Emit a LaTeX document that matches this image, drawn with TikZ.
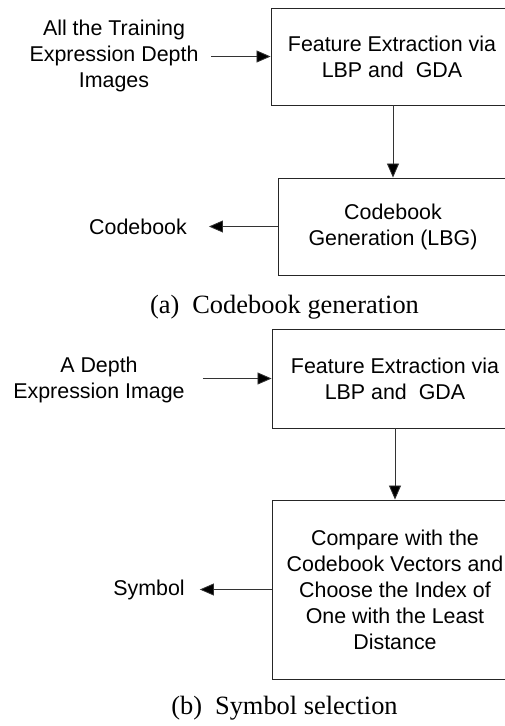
\documentclass[tikz,border=0pt]{standalone}
\usepackage{fontspec}
\setmainfont{Liberation Sans}
\newfontfamily\capfont{Liberation Serif}
\usetikzlibrary{arrows.meta}

\tikzset{
  blockbox/.style={draw=black!85, line width=0.9pt, align=center, inner sep=0pt,
    font=\fontsize{21.4}{26}\selectfont},
  plaintext/.style={align=center, inner sep=0pt,
    font=\fontsize{21.4}{26}\selectfont},
  captext/.style={inner sep=0pt, font=\capfont\fontsize{26.4}{30}\selectfont},
  flow/.style={draw=black!80, line width=0.8pt,
    -{Triangle[length=14pt,width=12pt,fill=black]}},
}

\begin{document}
\begin{tikzpicture}[x=1pt,y=-1pt]
  \useasboundingbox (0,0) rectangle (505,726);
  \clip (0,0) rectangle (505,726);
  \fill[white] (0,0) rectangle (505,726);

  % (a) codebook generation
  \node[plaintext, inner xsep=12.5pt] (in1) at (114,56)
    {All the Training\\Expression Depth\\Images};
  \node[blockbox, minimum width=242pt, minimum height=97pt] (fe1) at (392,56.5)
    {Feature Extraction via\\LBP and\ \ GDA};
  \node[blockbox, minimum width=230pt, minimum height=97pt] (cg) at (393,226.5)
    {Codebook\\Generation (LBG)};
  \node[plaintext, inner xsep=22pt] (cb) at (138,227) {Codebook};
  \node[captext] (capa) at (284.5,307) {(a)\hspace{13pt}Codebook generation};

  \draw[flow] (in1.east |- fe1.west) -- (fe1.west);
  \draw[flow] (fe1.south -| cg.north) -- (cg.north);
  \draw[flow] (cg.west) -- (cb.east |- cg.west);

  % (b) symbol selection
  \node[plaintext, inner xsep=18pt] (in2) at (99,379.5)
    {A Depth\\Expression Image};
  \node[blockbox, minimum width=246pt, minimum height=99pt] (fe2) at (395,378.5)
    {Feature Extraction via\\LBP and\ \ GDA};
  \node[blockbox, minimum width=246pt, minimum height=179pt] (cmp) at (395,589.5)
    {Compare with the\\Codebook Vectors and\\Choose the Index of\\One with the Least\\Distance};
  \node[plaintext, inner xsep=15pt] (sym) at (149,590) {Symbol};
  \node[captext] (capb) at (284.5,708) {(b)\hspace{13pt}Symbol selection};

  \draw[flow] (in2.east |- fe2.west) -- (fe2.west);
  \draw[flow] (fe2.south) -- (cmp.north);
  \draw[flow] (cmp.west) -- (sym.east |- cmp.west);
\end{tikzpicture}
\end{document}
